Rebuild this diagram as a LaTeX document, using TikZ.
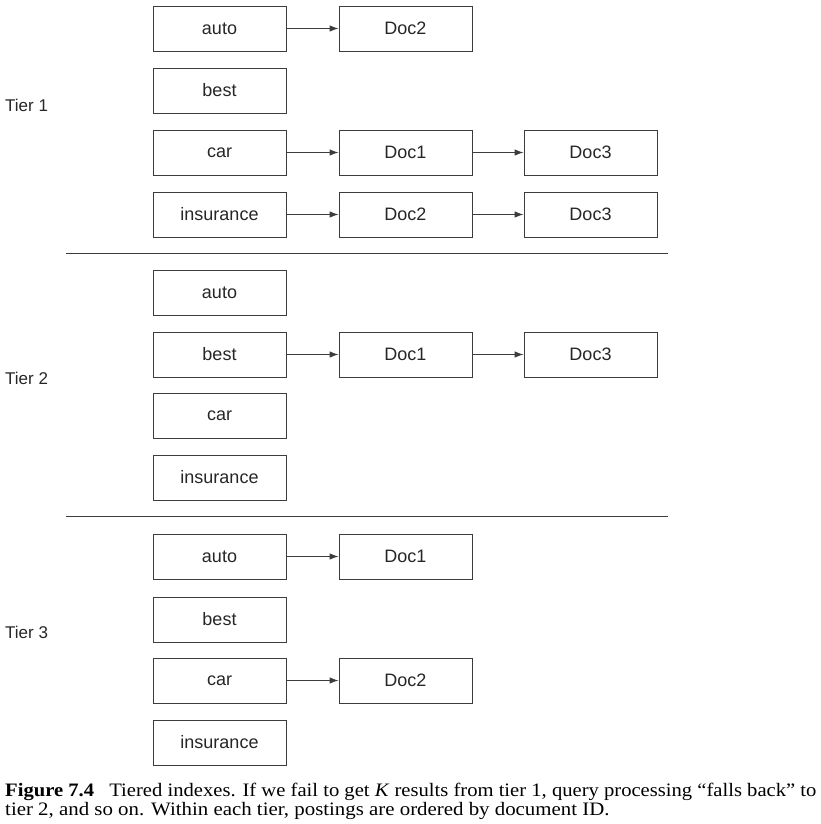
\documentclass[tikz,border=0pt]{standalone}
\usepackage{fontspec}
\setmainfont{Liberation Serif}
\newfontfamily\diafont{Liberation Sans}
\usetikzlibrary{arrows.meta}
\definecolor{ln}{RGB}{60,60,60}
\begin{document}
\begin{tikzpicture}[x=1pt,y=-1pt,
  box/.style={draw=ln,line width=0.9pt,minimum width=133pt,minimum height=45pt,inner sep=0pt,font=\diafont\fontsize{18}{20}\selectfont,text=black!85},
  arr/.style={draw=ln,line width=0.9pt,-{Latex[length=9pt,width=6.5pt]}},
  tier/.style={anchor=west,inner sep=0pt,font=\diafont\fontsize{17}{20}\selectfont,text=black!85},
  sep/.style={draw=ln,line width=0.8pt},
  captext/.style={anchor=base west,inner sep=0pt,font=\fontsize{19}{20}\selectfont}]
\useasboundingbox (0,0) rectangle (821,824);
% Tier 1
\node[box] (a1) at (219.5,28.5) {auto};
\node[box] (b1) at (219.5,90.5) {best};
\node[box] (c1) at (219.5,152.5) {car};
\node[box] (i1) at (219.5,214.5) {insurance};
\node[box] (a1d2) at (405.5,28.5) {Doc2};
\node[box] (c1d1) at (405.5,152.5) {Doc1};
\node[box] (c1d3) at (590.5,152.5) {Doc3};
\node[box] (i1d2) at (405.5,214.5) {Doc2};
\node[box] (i1d3) at (590.5,214.5) {Doc3};
\draw[arr] (a1) -- (a1d2);
\draw[arr] (c1) -- (c1d1);
\draw[arr] (c1d1) -- (c1d3);
\draw[arr] (i1) -- (i1d2);
\draw[arr] (i1d2) -- (i1d3);
\node[tier] (t1) at (5,105) {Tier 1};
\coordinate (s1a) at (66,253);
\coordinate (s1b) at (668,253);
\draw[sep] (s1a) -- (s1b);
% Tier 2
\node[box] (a2) at (219.5,292.5) {auto};
\node[box] (b2) at (219.5,354.5) {best};
\node[box] (c2) at (219.5,415.5) {car};
\node[box] (i2) at (219.5,477.5) {insurance};
\node[box] (b2d1) at (405.5,354.5) {Doc1};
\node[box] (b2d3) at (590.5,354.5) {Doc3};
\draw[arr] (b2) -- (b2d1);
\draw[arr] (b2d1) -- (b2d3);
\node[tier] (t2) at (5,378) {Tier 2};
\coordinate (s2a) at (66,516);
\coordinate (s2b) at (668,516);
\draw[sep] (s2a) -- (s2b);
% Tier 3
\node[box] (a3) at (219.5,556.5) {auto};
\node[box] (b3) at (219.5,619.5) {best};
\node[box] (c3) at (219.5,680.5) {car};
\node[box] (i3) at (219.5,742.5) {insurance};
\node[box] (a3d1) at (405.5,556.5) {Doc1};
\node[box] (c3d2) at (405.5,680.5) {Doc2};
\draw[arr] (a3) -- (a3d1);
\draw[arr] (c3) -- (c3d2);
\node[tier] (t3) at (5,632) {Tier 3};
% Caption
\node[captext] (cap1) at (5,796)
  {\scalebox{1.085}[1]{\textbf{Figure 7.4}\hspace{14pt}Tiered indexes. If we fail to get \textit{K} results from tier 1, query processing “falls back” to}};
\node[captext] (cap2) at (5,815)
  {\scalebox{1.098}[1]{tier 2, and so on. Within each tier, postings are ordered by document ID.}};
\end{tikzpicture}
\end{document}
